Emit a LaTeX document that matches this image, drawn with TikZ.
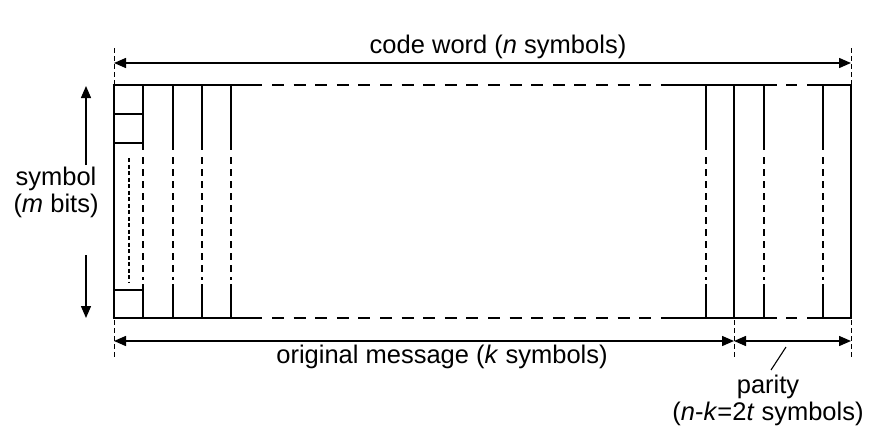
\documentclass[tikz,border=0pt]{standalone}
\usepackage{fontspec}
\setmainfont{Liberation Sans}
\usetikzlibrary{arrows.meta}
\begin{document}
\begin{tikzpicture}[x=1pt,y=-1pt,
  lbl/.style={inner sep=0pt,anchor=base,font=\fontsize{25.5}{29}\selectfont},
  frame/.style={line width=2.8pt},
  colthin/.style={line width=1.5pt},
  brk/.style={dash pattern=on 7pt off 5pt},
  ext/.style={line width=0.9pt,dash pattern=on 5pt off 3pt},
  dim/.style={line width=1.4pt,{Triangle[length=12pt,width=10pt]}-{Triangle[length=12pt,width=10pt]}},
  half/.style={line width=1.4pt,-{Triangle[length=12pt,width=10pt]}}]
\useasboundingbox (0,0) rectangle (895,431);

% frame corners and key positions
\coordinate (TL) at (114,85);
\coordinate (BL) at (114,318);
\coordinate (TR) at (851,85);
\coordinate (BR) at (851,318);
\coordinate (TM) at (734,85);
\coordinate (BM) at (734,318);

% outer sides and message/parity boundary
\draw[frame] (TL) -- (BL);
\draw[frame] (TR) -- (BR);
\draw[frame] (TM) -- (BM);

% top and bottom edges with broken segments
\foreach \y in {85,318}{
  \draw[frame] (112.6,\y) -- (262,\y);
  \draw[frame,dash pattern=on 12pt off 9.6pt] (272,\y) -- (670,\y);
  \draw[frame] (668,\y) -- (777,\y);
  \draw[frame] (786,\y) -- (797,\y);
  \draw[frame] (807,\y) -- (852.4,\y);
}

% symbol columns: solid ends, broken middle
\foreach \x/\w in {143/2.2,173/2.2,202/2.2,231/2.2,706/1.4,764/2.2,823/1.6}{
  \draw[line width=\w pt] (\x,85) -- (\x,150);
  \draw[line width=\w pt,brk] (\x,157) -- (\x,280);
  \draw[line width=\w pt] (\x,284) -- (\x,318);
}

% bit cells of the first symbol
\draw[colthin] (114,114) -- (143,114);
\draw[colthin] (114,143) -- (143,143);
\draw[colthin] (114,290) -- (143,290);
\draw[line width=1.1pt,dash pattern=on 4pt off 2.5pt] (129,158) -- (129,283);

% extension lines for the dimension arrows
\draw[ext] (114,48) -- (114,84);
\draw[ext] (851,48) -- (851,84);
\draw[ext] (114,320) -- (114,357);
\draw[ext] (734,320) -- (734,357);
\draw[ext] (851,320) -- (851,357);

% dimension arrows
\coordinate (cwL) at (114,63);
\coordinate (cwR) at (851,63);
\coordinate (omL) at (114,341);
\coordinate (omR) at (734,341);
\coordinate (prR) at (851,341);
\draw[dim] (cwL) -- (cwR);
\draw[dim] (omL) -- (omR);
\draw[dim] (omR) -- (prR);

% symbol height arrows
\coordinate (symTopS) at (86,165);
\coordinate (symTop) at (86,86);
\coordinate (symBotS) at (86,255);
\coordinate (symBot) at (86,318);
\draw[half] (symTopS) -- (symTop);
\draw[half] (symBotS) -- (symBot);

% labels
\node[lbl] (cw) at (498,53) {code word (\textit{n} symbols)};
\node[lbl] (om) at (442,363) {original message (\textit{k} symbols)};
\node[lbl] (sym1) at (56,185) {symbol};
\node[lbl] (sym2) at (56,212) {(\textit{m} bits)};
\node[lbl] (par1) at (768,393) {parity};
\node[lbl] (par2) at (768,420) {(\textit{n}-\textit{k}=2\textit{t} symbols)};

% leader from parity label to its arrow
\coordinate (ldA) at (786,347);
\coordinate (ldB) at (771,370);
\draw[line width=1.1pt] (ldA) -- (ldB);
\end{tikzpicture}
\end{document}
